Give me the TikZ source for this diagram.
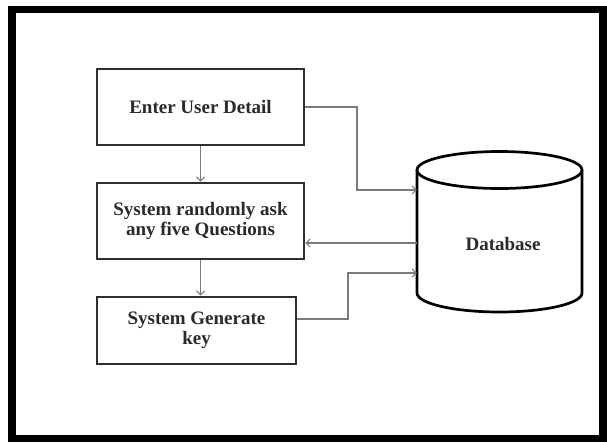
\documentclass[tikz,border=0pt]{standalone}
\usepackage{fontspec}
\setmainfont{Liberation Serif}
\usetikzlibrary{arrows.meta,calc}
\definecolor{boxline}{HTML}{2E2E2E}
\definecolor{connline}{HTML}{7A7A7A}
\definecolor{txt}{HTML}{2A2A2A}
\begin{document}
\begin{tikzpicture}[x=1pt,y=-1pt,
  procbox/.style={draw=boxline,line width=2.8pt,fill=white,inner sep=0pt,align=center,
     text=txt,font=\bfseries\fontsize{19}{20.5}\selectfont},
  conn/.style={draw=connline,line width=1.1pt,-{Straight Barb[length=4pt,width=8pt,line width=1pt]}},
  dblabel/.style={text=txt,font=\bfseries\fontsize{19}{20.5}\selectfont}
]
\useasboundingbox (0,0) rectangle (607,442);
\begin{scope}
\clip (0,0) rectangle (607,442);
\draw[line width=7.5pt,black] (12,9.5) rectangle (603,438.5);
\end{scope}

\node[procbox,minimum width=207pt,minimum height=76pt] (b1) at (200.5,107) {Enter User Detail};
\node[procbox,minimum width=207pt,minimum height=76pt] (b2) at (200.5,221) {System randomly ask\\any five Questions};
\node[procbox,minimum width=199pt,minimum height=67pt] (b3) at (196.5,330.5) {System Generate\\key};

% database cylinder
\node[minimum width=165pt,minimum height=160pt,inner sep=0pt] (db) at (499.5,232) {};
\draw[black,line width=2.7pt,fill=white]
  (417,170) -- (417,293) arc[start angle=180,end angle=360,x radius=82.5,y radius=-19] -- (582,170);
\draw[black,line width=2.7pt] (499.5,170) ellipse[x radius=82.5,y radius=18.5];
\node[dblabel] (dbt) at (503,244) {Database};

\coordinate (k1) at (357,190);
\coordinate (k2) at (0,243);
\coordinate (k3) at (348,273);
\coordinate (k4) at (0,319);

\draw[conn] (b1.south) -- (b2.north);
\draw[conn] (b2.south) -- (b2.south |- b3.north);
\draw[conn] (b1.east) -| (k1) -- (db.west |- k1);
\draw[conn] (db.west |- k2) -- (b2.east |- k2);
\draw[conn] (b3.east |- k4) -| (k3) -- (db.west |- k3);
\end{tikzpicture}
\end{document}
